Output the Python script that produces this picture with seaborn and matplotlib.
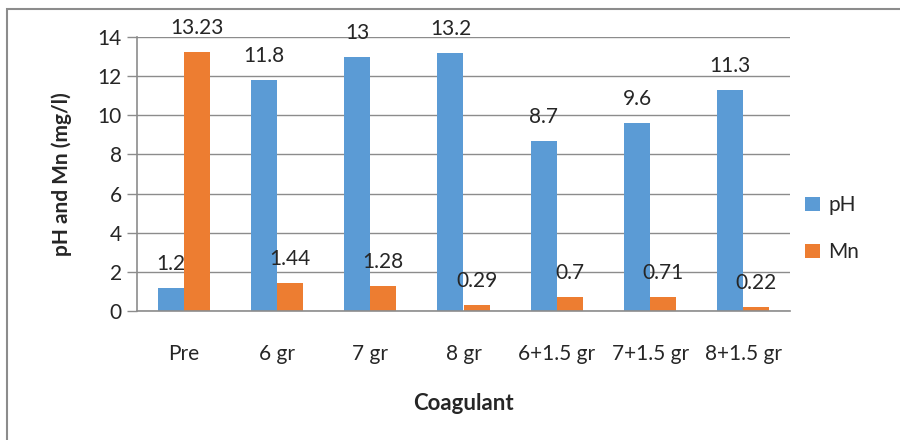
import matplotlib
matplotlib.use('Agg')
import matplotlib.pyplot as plt
import matplotlib.patches as mpatches
import pandas as pd
import seaborn as sns

categories = ['Pre', '6 gr', '7 gr', '8 gr', '6+1.5 gr', '7+1.5 gr', '8+1.5 gr']
ph_values = [1.2, 11.8, 13, 13.2, 8.7, 9.6, 11.3]
mn_values = [13.23, 1.44, 1.28, 0.29, 0.7, 0.71, 0.22]
ph_labels = ['1.2', '11.8', '13', '13.2', '8.7', '9.6', '11.3']
mn_labels = ['13.23', '1.44', '1.28', '0.29', '0.7', '0.71', '0.22']

df = pd.DataFrame({
    'Coagulant': categories * 2,
    'value': ph_values + mn_values,
    'series': ['pH'] * len(categories) + ['Mn'] * len(categories),
})

sns.set_style('white')
plt.rcParams['font.family'] = ['Lato', 'DejaVu Sans']
FS = 15

fig = plt.figure(figsize=(9, 4.4), dpi=100)
ax = fig.add_axes([137 / 900, 1 - 311 / 440, (790 - 137) / 900, (311 - 37) / 440])

palette = {'pH': '#5B9BD5', 'Mn': '#ED7D31'}
sns.barplot(data=df, x='Coagulant', y='value', hue='series', order=categories,
            hue_order=['pH', 'Mn'], palette=palette, width=0.56, ax=ax,
            saturation=1, edgecolor='none', legend=True)

ax.set_ylim(0, 14)
ax.set_xlim(-0.5, len(categories) - 0.5)
ax.set_yticks(range(0, 15, 2))
ax.yaxis.grid(True, color='#8c8c8c', linewidth=1)
ax.set_axisbelow(True)
for side in ['top', 'right']:
    ax.spines[side].set_visible(False)
for side in ['left', 'bottom']:
    ax.spines[side].set_color('#8c8c8c')
    ax.spines[side].set_linewidth(1.2)

# category boundary ticks on x axis
ax.set_xticks([i + 0.5 for i in range(-1, len(categories))], minor=True)
ax.tick_params(axis='x', which='minor', length=7, color='#8c8c8c', width=1)
ax.tick_params(axis='x', which='major', length=0, labelsize=FS, pad=24)
ax.tick_params(axis='y', length=7, color='#8c8c8c', width=1, labelsize=FS, pad=4, left=True)

ax.set_xlabel('Coagulant', fontsize=FS + 1, fontweight='bold', labelpad=21)
ax.set_ylabel('pH and Mn (mg/l)', fontsize=FS, fontweight='bold', labelpad=18)

# value labels
for cont, labels in zip(ax.containers, [ph_labels, mn_labels]):
    ax.bar_label(cont, labels=labels, padding=10, fontsize=FS)

leg = ax.legend(loc='center left', bbox_to_anchor=(0.995, 0.3), frameon=False,
                fontsize=FS, handlelength=0.7, handleheight=0.7, labelspacing=1.3,
                handletextpad=0.4)

fig.patches.append(mpatches.Rectangle((7 / 900, -0.1), 1.2, 1.1 - 9 / 440,
                                      transform=fig.transFigure, fill=False,
                                      edgecolor='#8c8c8c', linewidth=1.5))

fig.savefig('out.png', dpi=100)
